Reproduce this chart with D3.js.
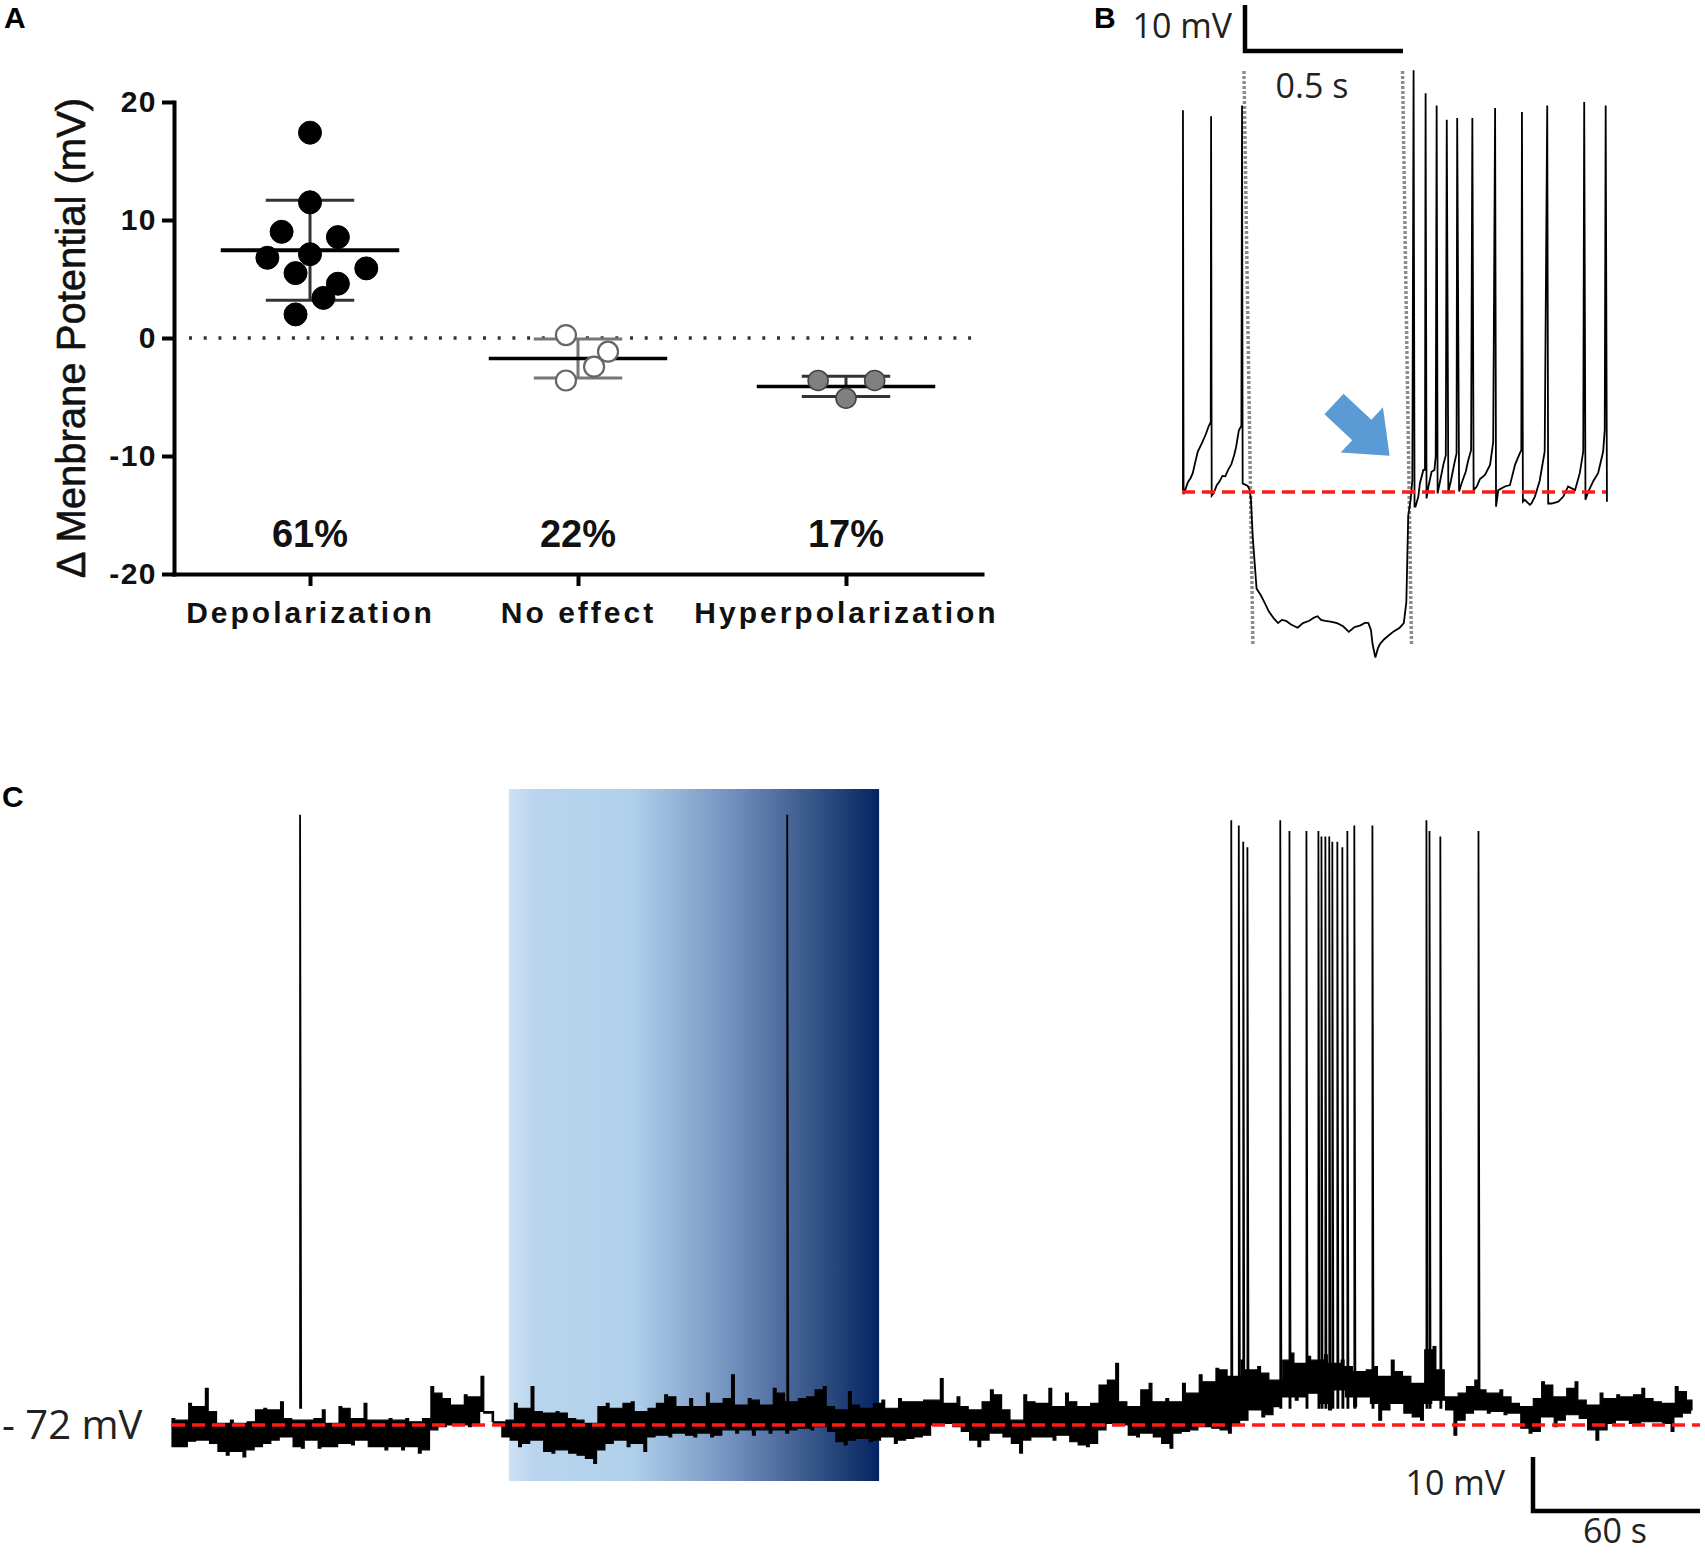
<!DOCTYPE html>
<html>
<head>
<meta charset="utf-8">
<script src="https://cdn.jsdelivr.net/npm/d3@7"></script>
<style>
  body { margin: 0; background: #fff; }
  svg { display: block; }
</style>
</head>
<body>
<div id="figure"></div>
<script>
// ---------- Panel A data ----------
var catNames = ["Depolarization", "No effect", "Hyperpolarization"];
var catShares = ["61%", "22%", "17%"];
var yTicksA = [-20, -10, 0, 10, 20];

var depolValues = [17.4, 11.5, 9.0, 8.55, 7.1, 6.8, 5.9, 5.5, 4.6, 3.4, 2.0];
var depolSwarm = [0, 0, -0.106, 0.104, 0, -0.159, 0.21, -0.054, 0.104, 0.05, -0.054];
var noEffectValues = [0.25, -1.16, -2.43, -3.6];
var noEffectSwarm = [-0.045, 0.112, 0.06, -0.045];
var hyperValues = [-3.6, -3.6, -5.1];
var hyperSwarm = [-0.104, 0.107, 0];

// ---------- Panel B data: [time s, mV from rest] ----------
var bTrace = [
  [0.000, 0.0], [0.003, 0.0], [0.003, 83.0], [0.005, -0.5],
  [0.010, 0.4], [0.019, 2.2], [0.027, 3.0], [0.034, 4.1], [0.042, 6.5], [0.050, 8.8], [0.063, 10.6], [0.075, 12.5], [0.085, 14.4], [0.091, 15.2],
  [0.092, 81.7], [0.094, -0.8],
  [0.100, -0.3], [0.110, 1.5], [0.118, 2.2], [0.128, 3.5], [0.137, 3.4], [0.146, 4.8], [0.156, 6.0], [0.165, 8.0], [0.171, 9.7], [0.180, 13.4], [0.188, 14.4],
  [0.190, 84.0], [0.192, 1.8],
  [0.200, 1.6], [0.208, 1.3], [0.214, 0.5], [0.218, -1.5], [0.224, -9.8], [0.236, -21.0], [0.250, -22.5], [0.261, -24.0], [0.275, -26.0],
  [0.292, -27.6], [0.304, -28.5], [0.316, -27.8], [0.329, -28.0], [0.345, -28.8], [0.366, -29.5], [0.383, -28.5], [0.403, -28.0],
  [0.418, -27.3], [0.429, -27.0], [0.440, -27.8], [0.453, -28.0], [0.470, -28.2], [0.491, -28.5], [0.510, -29.2], [0.528, -30.4],
  [0.545, -29.4], [0.565, -29.0], [0.580, -28.4], [0.590, -28.5], [0.598, -30.0], [0.603, -33.0], [0.612, -36.0], [0.620, -34.0],
  [0.627, -33.0], [0.640, -32.0], [0.652, -31.3], [0.670, -30.3], [0.689, -29.5], [0.702, -28.5], [0.710, -24.0], [0.712, -18.0],
  [0.716, -5.2], [0.724, -1.5], [0.729, 2.5],
  [0.733, 91.7], [0.736, -3.2],
  [0.739, -3.2], [0.748, -1.0], [0.753, 1.9], [0.764, 4.8], [0.769, 4.8],
  [0.771, 86.7], [0.774, -1.4],
  [0.780, 1.2], [0.790, 4.4], [0.799, 4.8], [0.803, 7.7],
  [0.806, 84.0], [0.809, -0.3],
  [0.817, 2.4], [0.827, 5.9], [0.835, 8.0],
  [0.838, 80.9], [0.843, 0.1],
  [0.851, 2.4], [0.862, 6.2], [0.869, 8.4],
  [0.871, 81.3], [0.877, 0.1],
  [0.885, 1.9], [0.898, 4.4], [0.906, 6.9], [0.915, 9.1],
  [0.919, 81.3], [0.923, 0.4],
  [0.933, 1.2], [0.943, 2.8], [0.959, 3.7], [0.975, 5.9], [0.985, 10.9],
  [0.991, 83.5], [0.994, -3.2],
  [1.001, 0.4], [1.022, 1.2], [1.038, 1.5], [1.054, 5.9], [1.069, 8.4], [1.074, 9.1],
  [1.076, 82.6], [1.079, -2.1],
  [1.085, -1.7], [1.101, -2.8], [1.106, -2.5], [1.117, -1.0], [1.132, 2.4], [1.148, 8.8],
  [1.156, 84.0], [1.159, -2.5],
  [1.170, -2.5], [1.191, -2.1], [1.207, -1.0], [1.222, 1.2], [1.244, 0.4], [1.259, 4.1], [1.270, 8.8],
  [1.273, 84.8], [1.277, -1.7],
  [1.286, 0.1], [1.302, 2.4], [1.317, 4.1], [1.333, 8.8], [1.338, 13.5],
  [1.341, 84.0], [1.345, -2.1]
];
var bLightEdges = [0.196, 0.698];   // grey dotted markers (s)

// ---------- Panel C data ----------
var cBinSec = 3;
var cHi = [
  1.2, 0.9, 4.0, 3.4, 6.8, 2.5, 0.3, 0.9, 0.3, 0.6,
  2.8, 3.1, 2.8, 4.3, 1.2, 0.9, 0.9, 1.2, 2.8, 0.3,
  3.4, 3.1, 1.2, 4.0, 0.9, 0.9, 1.2, 0.9, 1.2, 0.6,
  1.2, 7.1, 5.9, 4.9, 3.7, 5.6, 5.2, 9.0, 2.2, 0.6,
  0.9, 4.0, 3.1, 7.1, 2.5, 2.2,
  2.5, 2.2, 1.2, 0.9, 0.3, 3.4, 4.0, 3.1, 4.0, 4.3,
  2.5, 3.1, 4.0, 5.6, 5.2, 3.4, 4.9, 3.4, 5.9, 4.0,
  4.9, 9.3, 3.7, 4.9, 4.6, 3.7, 6.8, 5.9, 4.3, 4.9,
  5.2, 6.5, 7.1, 3.4, 2.8, 6.2, 3.7, 3.1, 4.0, 4.6,
  3.1, 4.9, 4.3, 4.3, 4.6,
  4.6, 8.6, 4.0, 5.2, 3.4, 2.8, 4.3, 6.5, 5.6, 2.8,
  0.9, 5.6, 4.3, 4.0, 6.8, 3.4, 5.9, 4.3, 3.4, 4.0,
  7.4, 8.3, 11.4, 4.3, 3.4, 6.5, 7.7, 4.3, 4.9, 4.3,
  7.7, 5.9, 9.3, 8.0, 10.5, 10.2, 9.0, 12.0, 10.2, 10.8,
  9.6, 8.3, 12.0, 13.3, 11.4,
  12.7, 12.0, 13.0, 11.4, 12.0, 10.8, 9.9, 10.2, 10.8, 9.0,
  12.0, 9.9, 9.0, 7.7, 13.9, 14.5, 10.2, 5.2, 5.9, 7.1,
  8.3, 6.5, 5.9, 6.5, 5.2, 4.0, 3.4, 4.9, 8.0, 7.4,
  5.2, 6.8, 8.0, 4.6, 3.7, 5.9, 4.9, 5.6, 5.2, 5.6,
  6.8, 4.9, 4.3, 4.0, 7.1, 6.2, 4.6
];
var cLo = [
  -4.0, -4.0, -3.0, -2.8, -3.4, -4.9, -5.6, -4.9, -5.9, -4.6,
  -4.0, -3.4, -2.8, -2.2, -4.0, -4.3, -2.8, -4.3, -4.0, -4.0,
  -3.4, -3.7, -2.8, -4.0, -4.0, -4.6, -4.0, -4.6, -4.0, -5.2,
  -4.6, -0.9, -0.3, 0.0, 0.0, -0.3, 0.3, 2.5, 0.3, -2.2,
  -2.8, -4.0, -3.4, -2.8, -4.9, -5.2,
  -4.6, -5.2, -5.6, -6.2, -7.1, -4.6, -3.4, -2.8, -4.0, -3.4,
  -4.9, -2.2, -1.9, -2.2, -1.5, -1.9, -2.2, -1.5, -2.2, -1.9,
  -0.9, -1.5, -0.9, -1.9, -0.9, -1.5, -0.9, -1.5, -0.9, -0.6,
  -0.9, -0.3, -1.2, -3.1, -3.7, -2.8, -2.5, -3.1, -2.8, -2.2,
  -3.4, -2.8, -2.5, -2.2, -1.9,
  0.0, 0.3, -0.3, -1.2, -2.8, -4.0, -2.8, -1.5, -2.2, -3.4,
  -5.2, -2.8, -2.2, -2.2, -2.8, -1.9, -3.1, -3.7, -4.0, -3.4,
  -0.9, 0.3, 0.0, -1.9, -2.2, -1.5, -2.2, -3.4, -4.3, -1.5,
  -1.2, -0.9, -0.3, -0.6, -0.9, -1.5, 0.0, 0.9, 2.8, 1.5,
  1.9, 3.4, 5.2, 4.6, 5.2,
  5.9, 4.0, 2.8, 6.5, 5.2, 3.4, 5.2, 4.0, 0.9, 2.8,
  4.0, 2.2, 1.5, 0.9, 4.0, 4.6, 2.8, -1.9, 0.9, 2.2,
  2.8, 2.2, 2.5, 1.9, 2.2, -0.6, -1.5, -1.2, 1.5, -0.3,
  0.9, 1.9, 1.2, -0.9, -2.8, -0.9, 0.3, 0.9, 0.3, 0.0,
  0.6, 0.6, 0.3, -1.2, 1.5, 2.2, 2.8
];
var cSpikeTimes = [46.0, 221.0, 380.5, 383.2, 384.8, 386.3, 398.1, 401.4, 407.5, 411.8, 412.9, 414.3,
  415.7, 416.8, 418.6, 420.4, 422.2, 424.7, 431.2, 450.6, 451.7, 455.6, 469.3];
var cSpikePeaks = [113, 113, 112, 111, 108, 107, 112, 110, 110, 110, 109, 109,
  109, 108, 108, 107, 110, 111, 111, 112, 110, 109, 110];
var cLight = [121, 254];   // light-on window (s)

var svg = d3.select('#figure')
  .append('svg')
  .attr('width', 1705)
  .attr('height', 1554);

var armFont = "'Liberation Sans', Arial, sans-serif";
var labFont = "'Open Sans', 'Noto Sans', sans-serif";

// panel letters
var letters = svg.append('g')
  .attr('font-family', armFont)
  .attr('font-weight', 'bold')
  .attr('font-size', '30px');
letters.append('text').attr('x', 4).attr('y', 28).text('A');
letters.append('text').attr('x', 1094).attr('y', 28).text('B');
letters.append('text').attr('x', 2).attr('y', 807).text('C');

// ================= Panel A =================
var panelA = svg.append('g');
var yA = d3.scaleLinear().domain([-20, 20]).range([574, 102]);
var xA = d3.scaleLinear().domain([-0.5075, 2.5075]).range([174, 982]);

var yAxisA = panelA.append('g')
  .attr('transform', 'translate(174,0)')
  .call(d3.axisLeft(yA).tickValues(yTicksA).tickSize(12).tickSizeOuter(0).tickPadding(5)
    .tickFormat(d => String(d)));

var xAxisA = panelA.append('g')
  .attr('transform', 'translate(0,574)')
  .call(d3.axisBottom(xA).tickValues([0, 1, 2]).tickSize(12).tickSizeOuter(0)
    .tickFormat(i => catNames[i]));

panelA.selectAll('.domain, .tick line')
  .attr('stroke', '#000')
  .attr('stroke-width', 4);
panelA.selectAll('.domain').attr('stroke-linecap', 'square');

yAxisA.selectAll('text')
  .attr('font-family', armFont)
  .attr('font-weight', 'bold')
  .attr('font-size', '30px')
  .attr('letter-spacing', '1.5px')
  .attr('fill', '#111');

xAxisA.selectAll('text')
  .attr('y', 49)
  .attr('dy', 0)
  .attr('font-family', armFont)
  .attr('font-weight', 'bold')
  .attr('font-size', '30px')
  .attr('letter-spacing', '3px')
  .attr('fill', '#111');

// zero line
panelA.append('line')
  .attr('x1', 189).attr('x2', 972)
  .attr('y1', yA(0)).attr('y2', yA(0))
  .attr('stroke', '#333')
  .attr('stroke-width', 3.5)
  .attr('stroke-dasharray', '3,11.7');

// groups
var groups = [
  { values: depolValues, swarm: depolSwarm, fill: '#000', stroke: '#000', sw: 1, r: 11.5, bar: '#333', meanW: 4 },
  { values: noEffectValues, swarm: noEffectSwarm, fill: '#fff', stroke: '#666', sw: 2.2, r: 10, bar: '#777', meanW: 3.5 },
  { values: hyperValues, swarm: hyperSwarm, fill: '#808080', stroke: '#444', sw: 1.6, r: 10, bar: '#333', meanW: 3.5 }
];

groups.forEach(function(g, i) {
  var mean = d3.mean(g.values);
  var sd = d3.deviation(g.values);
  var cx = xA(i);
  var bars = panelA.append('g');

  // SD whisker
  bars.append('line')
    .attr('x1', cx).attr('x2', cx)
    .attr('y1', yA(mean + sd)).attr('y2', yA(mean - sd))
    .attr('stroke', g.bar).attr('stroke-width', 3);
  [mean + sd, mean - sd].forEach(function(v) {
    bars.append('line')
      .attr('x1', xA(i - 0.165)).attr('x2', xA(i + 0.165))
      .attr('y1', yA(v)).attr('y2', yA(v))
      .attr('stroke', g.bar).attr('stroke-width', 3);
  });
  // mean
  bars.append('line')
    .attr('x1', xA(i - 0.333)).attr('x2', xA(i + 0.333))
    .attr('y1', yA(mean)).attr('y2', yA(mean))
    .attr('stroke', '#000').attr('stroke-width', g.meanW);

  panelA.append('g').selectAll('circle')
    .data(g.values)
    .enter()
    .append('circle')
    .attr('cx', (d, k) => xA(i + g.swarm[k]))
    .attr('cy', d => yA(d))
    .attr('r', g.r)
    .attr('fill', g.fill)
    .attr('stroke', g.stroke)
    .attr('stroke-width', g.sw);

  panelA.append('text')
    .attr('x', cx)
    .attr('y', 547)
    .attr('text-anchor', 'middle')
    .attr('font-family', armFont)
    .attr('font-weight', 'bold')
    .attr('font-size', '38px')
    .attr('fill', '#111')
    .text(catShares[i]);
});

// y title
panelA.append('text')
  .attr('transform', 'translate(85,338) rotate(-90)')
  .attr('text-anchor', 'middle')
  .attr('font-family', armFont)
  .attr('font-size', '40px')
  .attr('stroke', '#111')
  .attr('stroke-width', 0.6)
  .attr('fill', '#111')
  .text('\u0394 Menbrane Potential (mV)');

// ================= Panel B =================
var panelB = svg.append('g');
var xB = d3.scaleLinear().domain([0, 1.342]).range([1182, 1606]);
var yB = d3.scaleLinear().domain([0, 10]).range([492, 446]);

// grey dotted light markers
bLightEdges.forEach(function(t) {
  panelB.append('line')
    .attr('x1', xB(t)).attr('y1', 71)
    .attr('x2', xB(t) + 9).attr('y2', 646)
    .attr('stroke', '#8c8c8c')
    .attr('stroke-width', 3.5)
    .attr('stroke-dasharray', '3,2');
});

var lineB = d3.line().x(d => xB(d[0])).y(d => yB(d[1]));
panelB.append('path')
  .datum(bTrace)
  .attr('d', lineB)
  .attr('fill', 'none')
  .attr('stroke', '#000')
  .attr('stroke-width', 1.8);

panelB.append('line')
  .attr('x1', xB(0)).attr('x2', xB(1.342))
  .attr('y1', yB(0)).attr('y2', yB(0))
  .attr('stroke', '#ff1a1a')
  .attr('stroke-width', 3.5)
  .attr('stroke-dasharray', '13,7');

// blue arrow
panelB.append('path')
  .attr('d', 'M0,-14 L38,-14 L38,-31 L76,0 L38,31 L38,14 L0,14 Z')
  .attr('transform', 'translate(1334,404) rotate(43)')
  .attr('fill', '#5b9bd5');

// scale bar B
var barB = panelB.append('g').attr('transform', 'translate(1245,51)');
barB.append('path')
  .attr('d', 'M0,' + (yB(10) - yB(0)) + ' V0 H' + (xB(0.5) - xB(0)))
  .attr('fill', 'none')
  .attr('stroke', '#000')
  .attr('stroke-width', 4.5);
barB.append('text').attr('x', -13).attr('y', -13).attr('text-anchor', 'end').text('10 mV');
barB.append('text').attr('x', (xB(0.5) - xB(0)) / 2 - 12).attr('y', 47).attr('text-anchor', 'middle').text('0.5 s');
barB.selectAll('text')
  .attr('font-family', labFont)
  .attr('font-size', '34px')
  .attr('fill', '#222');

// ================= Panel C =================
var panelC = svg.append('g');
var xC = d3.scaleLinear().domain([0, 546]).range([172, 1692]);
var yC = d3.scaleLinear().domain([0, 10]).range([1425, 1371]);

var defs = svg.append('defs');
var grad = defs.append('linearGradient').attr('id', 'lightGrad').attr('x1', 0).attr('x2', 1).attr('y1', 0).attr('y2', 0);
[[0, '#cfe2f3'], [0.06, '#bad6ee'], [0.33, '#b1d0ea'], [0.45, '#96b5d8'], [0.6, '#7391bf'],
 [0.75, '#4a6899'], [0.88, '#26467c'], [1, '#052361']].forEach(function(s) {
  grad.append('stop').attr('offset', s[0]).attr('stop-color', s[1]);
});

panelC.append('rect')
  .attr('x', xC(cLight[0]))
  .attr('width', xC(cLight[1]) - xC(cLight[0]))
  .attr('y', 789)
  .attr('height', 692)
  .attr('fill', 'url(#lightGrad)');

// noisy baseline: filled band; each bin's extreme shows as a narrow step,
// the rest of the bin sits at the smaller excursion of it and its neighbour
var n = cHi.length;
var upper = [], lower = [];
cHi.forEach(function(h, i) {
  var t = i * cBinSec;
  var next = i < n - 1 ? cHi[i + 1] : h;
  upper.push([t, h], [t + 1, h], [t + 1, Math.min(h, next)], [t + cBinSec, Math.min(h, next)]);
});
cLo.forEach(function(l, i) {
  var t = i * cBinSec + 1.5;
  var next = i < n - 1 ? cLo[i + 1] : l;
  var prev = i > 0 ? cLo[i - 1] : l;
  lower.push([t - 1.5, Math.max(l, prev)], [t, Math.max(l, prev)], [t, l], [t + 1, l], [t + 1, Math.max(l, next)]);
});
var edge = d3.line().x(d => xC(Math.min(d[0], 546))).y(d => yC(d[1]));
panelC.append('path')
  .attr('d', edge(upper.concat(lower.reverse())) + 'Z')
  .attr('fill', '#000')
  .attr('stroke', '#000')
  .attr('stroke-width', 1.2)
  .attr('stroke-linejoin', 'miter');

panelC.append('g').selectAll('path')
  .data(cSpikeTimes)
  .enter()
  .append('path')
  .attr('d', (d, i) => 'M' + xC(d) + ',' + yC(3) + ' V' + yC(cSpikePeaks[i]) +
    ' L' + xC(d + 0.4) + ',' + yC(3))
  .attr('fill', 'none')
  .attr('stroke', '#000')
  .attr('stroke-width', 1.8);

panelC.append('line')
  .attr('x1', xC(0)).attr('x2', 1700)
  .attr('y1', yC(0)).attr('y2', yC(0))
  .attr('stroke', '#ff1a1a')
  .attr('stroke-width', 3.5)
  .attr('stroke-dasharray', '13,7');

panelC.append('text')
  .attr('x', 2).attr('y', 1439)
  .attr('font-family', labFont)
  .attr('font-size', '40px')
  .attr('fill', '#222')
  .text('- 72 mV');

var barC = panelC.append('g').attr('transform', 'translate(1533,1511)');
barC.append('path')
  .attr('d', 'M0,' + (yC(10) - yC(0)) + ' V0 H' + (xC(60) - xC(0)))
  .attr('fill', 'none')
  .attr('stroke', '#000')
  .attr('stroke-width', 4.5);
barC.append('text').attr('x', -28).attr('y', -16).attr('text-anchor', 'end').text('10 mV');
barC.append('text').attr('x', 82).attr('y', 32).attr('text-anchor', 'middle').text('60 s');
barC.selectAll('text')
  .attr('font-family', labFont)
  .attr('font-size', '34px')
  .attr('fill', '#222');
</script>
</body>
</html>
